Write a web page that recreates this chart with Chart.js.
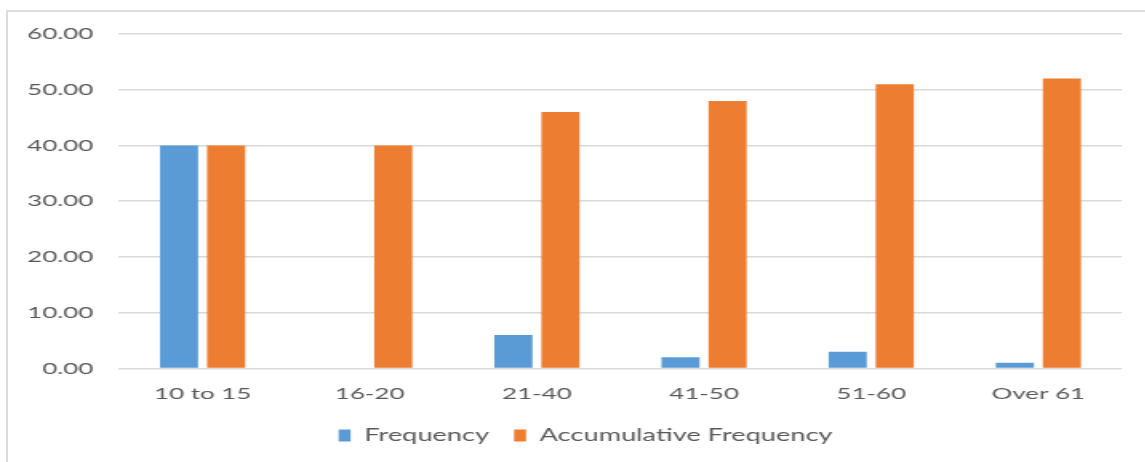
<!DOCTYPE html>
<html>
<head>
<meta charset="utf-8">
<script src="https://cdn.jsdelivr.net/npm/chart.js@4"></script>
<style>
  html, body { margin: 0; padding: 0; background: #fff; }
  .frame {
    position: absolute; left: 6px; top: 10px; right: 0; bottom: 0;
    border-left: 2px solid #dcdcdc; border-top: 2px solid #dcdcdc;
    overflow: hidden;
  }
  /* the reference is stretched sideways, so the chart box is too */
  .stretch {
    position: absolute; left: 0; top: 0;
    width: 722px; height: 450px;
    transform: scaleX(1.6); transform-origin: 0 0;
  }
</style>
</head>
<body>
<div class="frame">
  <div class="stretch"><canvas id="chart"></canvas></div>
</div>
<script>
// age groups along the bottom
const categories = ['10 to 15', '16-20', '21-40', '41-50', '51-60', 'Over 61']
const frequency = [40, 0, 6, 2, 3, 1]
const accumulative = [40, 40, 46, 48, 51, 52]
const yTicks = [0, 10, 20, 30, 40, 50, 60]

const textColor = '#595959'
const font = { family: 'Lato', size: 16.2 }

new Chart(document.getElementById('chart'), {
  type: 'bar',
  data: {
    labels: categories,
    datasets: [
      { label: 'Frequency', data: frequency, backgroundColor: '#5B9BD5' },
      { label: 'Accumulative Frequency', data: accumulative, backgroundColor: '#ED7D31' }
    ]
  },
  options: {
    responsive: true,
    maintainAspectRatio: false,
    animation: false,
    categoryPercentage: 0.563,
    barPercentage: 0.81,
    layout: { padding: { left: 0, right: 0, top: 22, bottom: 8 } },
    plugins: {
      tooltip: { enabled: false },
      legend: {
        position: 'bottom',
        labels: {
          boxWidth: 7.5, boxHeight: 12,
          padding: 15.6,
          color: textColor,
          font: { family: 'Lato', size: 17 }
        }
      }
    },
    scales: {
      x: {
        grid: { display: false },
        border: { display: false },
        ticks: { color: textColor, font: font, padding: 8, maxRotation: 0 },
        afterFit: (scale) => { scale.height = 43 }
      },
      y: {
        min: 0, max: 60,
        afterBuildTicks: (scale) => { scale.ticks = yTicks.map(v => ({ value: v })) },
        grid: { color: '#d9d9d9', lineWidth: 1.5, drawTicks: false },
        border: { display: false },
        ticks: {
          color: textColor, font: font, padding: 16,
          callback: (v) => Number(v).toFixed(2)
        },
        afterFit: (scale) => {
          scale.width = 69.4
          // tick padding would otherwise push the plot top down
          scale.paddingTop = 0
          scale.paddingBottom = 0
        }
      },
      // empty right-hand strip so the plot ends where the reference's does
      yRight: {
        position: 'right',
        grid: { display: false },
        border: { display: false },
        ticks: { display: false },
        afterFit: (scale) => { scale.width = 25.75 }
      }
    }
  }
})
</script>
</body>
</html>
